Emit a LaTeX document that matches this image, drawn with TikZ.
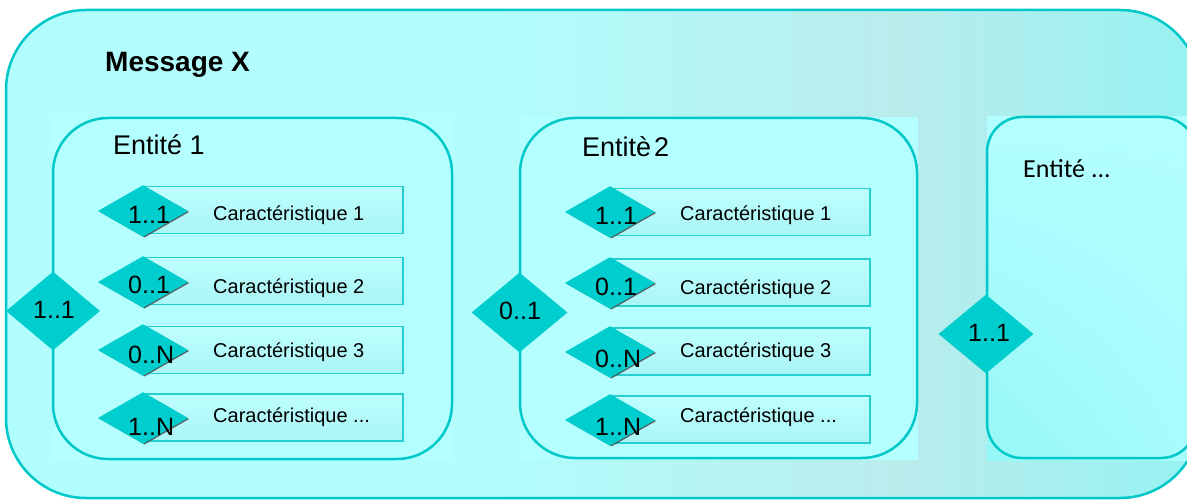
\documentclass[tikz,border=0pt]{standalone}
\usepackage{fontspec}
\setmainfont{Liberation Sans}
\newfontfamily\calibfont{Carlito}
\usetikzlibrary{shapes.geometric,shadows,shadings}
\definecolor{turq}{RGB}{0,200,200}
\definecolor{dfill}{RGB}{0,206,206}
\definecolor{bgA}{RGB}{178,254,254}
\definecolor{bgB}{RGB}{150,242,242}
\definecolor{bgG}{RGB}{186,236,236}
\definecolor{entA}{RGB}{180,255,255}
\definecolor{entB}{RGB}{150,247,247}
\definecolor{chA}{RGB}{190,255,255}
\definecolor{chB}{RGB}{170,245,245}
\tikzset{
  entbox/.style={draw=turq, line width=2.5pt, rectangle, rounded corners=55pt, inner sep=0pt},
  cbox/.style={draw=turq!85, line width=1.1pt, rectangle, shade, top color=chA, bottom color=chB, minimum width=260pt, minimum height=47pt, inner sep=0pt},
  sdia/.style={diamond, fill=dfill, draw=dfill, line width=0.6pt, minimum width=89pt, minimum height=51pt, inner sep=0pt,
    drop shadow={shadow xshift=1.6pt, shadow yshift=-1pt, fill=black!70, opacity=0.9}},
  bdia/.style={diamond, fill=dfill, draw=dfill, line width=0.6pt, minimum width=94pt, minimum height=78pt, inner sep=0pt},
  lbl/.style={font=\fontsize{25}{30}\selectfont, anchor=base west, inner sep=0pt},
  ctext/.style={font=\fontsize{20}{24}\selectfont, anchor=base west, inner sep=0pt},
  ttl/.style={font=\fontsize{27}{32}\selectfont, anchor=base west, inner sep=0pt},
}
\newcommand{\mkrow}[8]{%
  \node[cbox] (#1b) at ({273+#2},#3) {};
  \node[sdia] (#1d) at ({143+#2},#4) {};
  \node[lbl] (#1c) at ({128+#2},#6) {#5};
  \node[ctext] (#1t) at ({213+#2},#8) {#7};
}
\begin{document}
\begin{tikzpicture}[x=1pt,y=-1pt]
\useasboundingbox (0,0) rectangle (1187,500);
% outer background
\begin{scope}
  \clip[rounded corners=80pt] (6,10) rectangle (1200,498);
  \fill[bgA] (0,0) rectangle (1200,500);
  \shade[left color=bgA, right color=bgG] (470,0) rectangle (900,500);
  \shade[left color=bgG, right color=bgB] (899,0) rectangle (1201,500);
\end{scope}
\node[draw=turq, line width=2.5pt, rectangle, rounded corners=80pt, minimum width=1194pt, minimum height=488pt, inner sep=0pt] (msg) at (603,254) {};
\node[font=\bfseries\fontsize{28}{34}\selectfont, anchor=base west, inner sep=0pt] (msgt) at (105,72) {Message X};

% entity backgrounds
\fill[entA] (53,117) rectangle (453,460);
\fill[entA] (519,117) rectangle (918,460);
\shade[upper left=entA, upper right=entA, lower right=entA!60!entB, lower left=entB] (987,117) rectangle (1187,460);

% entity boxes
\node[entbox, fill=entA, minimum width=399pt, minimum height=341pt] (e1) at (252.5,288.5) {};
\node[entbox, fill=entA, minimum width=397pt, minimum height=340pt] (e2) at (718.5,288) {};
\node[entbox, rounded corners=35pt, shade, upper left=entA, upper right=entA, lower right=entA!60!entB, lower left=entB, minimum width=209pt, minimum height=341pt] (e3) at (1091.5,287.5) {};

\node[ttl] (e1t) at (113,155) {Entité 1};
\node[ttl] (e2t) at (582,157) {Entitè\hspace{3pt}2};
\node[ttl, font=\calibfont\fontsize{26}{31}\selectfont] (e3t) at (1023,178) {Entité ...};

% entity 1 rows
\mkrow{a1}{0}{210}{211}{1..1}{223}{Caractéristique 1}{221}
\mkrow{a2}{0}{281}{282}{0..1}{293}{Caractéristique 2}{293}
\mkrow{a3}{0}{350}{350}{0..N}{363}{Caractéristique 3}{357}
\mkrow{a4}{0}{417.5}{418}{1..N}{435}{Caractéristique ...}{422}
% entity 2 rows
\mkrow{b1}{467}{212}{212}{1..1}{225}{Caractéristique 1}{221}
\mkrow{b2}{467}{282.5}{283}{0..1}{295}{Caractéristique 2}{294}
\mkrow{b3}{467}{351.5}{352}{0..N}{367}{Caractéristique 3}{357}
\mkrow{b4}{467}{419.5}{420}{1..N}{435}{Caractéristique ...}{422}

% cardinality diamonds of the entities
\node[bdia, minimum width=93pt] (e1d) at (53,311) {};
\node[lbl] (e1c) at (33,318) {1..1};
\node[bdia, minimum width=95pt, minimum height=79pt] (e2d) at (519.5,312.5) {};
\node[lbl] (e2c) at (499,319) {0..1};
\node[bdia] (e3d) at (986,334) {};
\node[lbl] (e3c) at (968,341) {1..1};
\end{tikzpicture}
\end{document}
